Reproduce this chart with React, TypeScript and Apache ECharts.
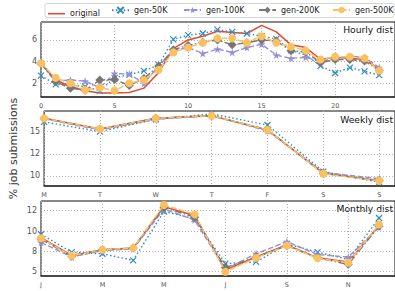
import React, { useEffect, useRef } from 'react';
import * as echarts from 'echarts';

const FONT = 'DejaVu Sans';

const seriesNames = ['original', 'gen-50K', 'gen-100K', 'gen-200K', 'gen-500K'];

const hours = [0, 1, 2, 3, 4, 5, 6, 7, 8, 9, 10, 11, 12, 13, 14, 15, 16, 17, 18, 19, 20, 21, 22, 23];
const hourlyOriginal = [3.8, 2.3, 1.7, 1.3, 1.1, 1.1, 1.15, 1.55, 3.0, 5.2, 6.0, 6.35, 6.8, 6.7, 6.6, 7.35, 6.75, 5.55, 5.3, 4.2, 4.4, 4.3, 4.2, 3.3];
const hourlyGen50K = [2.7, 1.9, 1.8, 1.7, 1.3, 2.5, 2.8, 3.15, 3.7, 6.05, 6.45, 6.6, 6.95, 6.75, 6.6, 6.35, 6.1, 5.05, 4.6, 3.6, 2.95, 3.45, 3.1, 2.75];
const hourlyGen100K = [4.0, 2.2, 2.3, 2.2, 1.6, 2.9, 2.85, 2.0, 3.6, 5.0, 5.3, 4.75, 5.15, 4.85, 5.3, 5.6, 4.6, 4.3, 4.4, 4.0, 4.3, 4.5, 4.4, 3.45];
const hourlyGen200K = [3.8, 2.15, 1.55, 1.35, 2.3, 2.35, 1.8, 2.45, 3.6, 5.1, 5.5, 5.8, 6.0, 5.55, 5.75, 6.0, 5.9, 5.0, 4.9, 3.9, 4.2, 4.2, 4.05, 3.2];
const hourlyGen500K = [3.85, 2.5, 2.0, 1.38, 1.6, 1.32, 2.0, 2.3, 3.25, 4.85, 5.3, 5.75, 6.15, 6.15, 5.75, 6.35, 5.75, 5.38, 5.0, 4.2, 4.45, 4.45, 4.3, 3.17];

const weekdays = [0, 1, 2, 3, 4, 5, 6];
const weekdayLabels = ['M', 'T', 'W', 'T', 'F', 'S', 'S'];
const weeklyOriginal = [16.5, 15.3, 16.5, 16.8, 15.2, 10.3, 9.45];
const weeklyGen50K = [16.1, 15.0, 16.4, 17.0, 15.75, 10.5, 9.3];
const weeklyGen100K = [16.45, 15.2, 16.4, 16.8, 15.1, 10.4, 9.7];
const weeklyGen200K = [16.5, 15.3, 16.5, 16.8, 15.2, 10.3, 9.5];
const weeklyGen500K = [16.5, 15.3, 16.5, 16.8, 15.2, 10.25, 9.45];

const months = [0, 1, 2, 3, 4, 5, 6, 7, 8, 9, 10, 11];
const monthTicks = [0, 2, 4, 6, 8, 10];
const monthTickLabels = ['J', 'M', 'M', 'J', 'S', 'N'];
const monthlyOriginal = [9.2, 7.0, 7.7, 7.9, 13.0, 11.9, 5.2, 6.8, 8.3, 6.7, 6.2, 10.7];
const monthlyGen50K = [9.6, 7.4, 7.2, 6.4, 12.4, 11.5, 6.0, 6.2, 8.4, 7.4, 6.5, 11.6];
const monthlyGen100K = [8.6, 6.8, 7.6, 7.8, 12.7, 11.35, 5.3, 7.2, 8.7, 7.1, 6.8, 10.5];
const monthlyGen200K = [9.0, 6.9, 7.7, 7.9, 12.9, 11.7, 5.5, 6.8, 8.2, 6.7, 5.9, 10.6];
const monthlyGen500K = [9.1, 6.95, 7.7, 7.9, 13.2, 12.05, 5.0, 6.7, 8.2, 6.65, 6.1, 10.8];

const hourTicks = [0, 5, 10, 15, 20];
const hourlyYTicks = [2, 4, 6];
const hourlyYTickLabels = ['2', '4', '6'];
const weeklyYTicks = [10, 12.5, 15];
const weeklyYTickLabels = ['10', '12', '15'];
const monthlyYTicks = [5, 7.5, 10, 12.5];
const monthlyYTickLabels = ['5', '8', '10', '12'];

const panelTitles = ['Hourly dist', 'Weekly dist', 'Monthly dist'];

const STAR = 'path://M50,0 L61,35 L98,35 L68,57 L79,91 L50,70 L21,91 L32,57 L2,35 L39,35 Z';
const XMARK = 'path://M0,0 L10,10 M10,0 L0,10';

const styles = [
  { color: '#E24A33', symbol: 'none', size: 0, type: 'solid' as any, width: 1.5 },
  { color: '#348ABD', symbol: XMARK, size: 6, type: [1.5, 2.4], width: 1.4 },
  { color: '#988ED5', symbol: STAR, size: 8, type: [5.5, 2.4], width: 1.4 },
  { color: '#777777', symbol: 'diamond', size: 9, type: [7, 2.4, 1.5, 2.4], width: 1.4 },
  { color: '#FBC15E', symbol: 'circle', size: 8, type: [5.5, 2.4], width: 1.5 },
];

function buildSeries(xs: number[], ys: number[][], idx: number) {
  return ys.map((arr, s) => {
    const st = styles[s];
    return {
      type: 'line',
      name: seriesNames[s],
      xAxisIndex: idx,
      yAxisIndex: idx,
      data: xs.map((x, i) => [x, arr[i]]),
      symbol: st.symbol,
      symbolSize: st.size,
      showSymbol: st.symbol !== 'none',
      z: 2 + s,
      lineStyle: { color: st.color, width: st.width, type: st.type },
      itemStyle: {
        color: st.color,
        borderColor: st.color,
        borderWidth: s === 1 ? 1.2 : 0,
        opacity: 1,
      },
      silent: true,
    };
  });
}

const gridTops = [22, 111, 201];
const GRID_H = 75;

function xAxisCommon(gridIndex: number, max: number, ticks: number[], fmt: (v: number) => string) {
  return {
    gridIndex,
    type: 'value',
    min: 0,
    max,
    axisLine: { show: true, onZero: false, lineStyle: { color: '#333', width: 1.5 } },
    axisTick: { show: false, customValues: ticks },
    axisLabel: {
      customValues: ticks,
      formatter: fmt,
      fontSize: 6.5,
      color: '#555',
      margin: 5,
      fontFamily: FONT,
    },
    splitLine: { show: true, lineStyle: { color: '#b0b0b0', type: [1, 2], width: 1 } },
  };
}

function yAxisCommon(gridIndex: number, min: number, max: number, ticks: number[], labels: string[]) {
  return {
    gridIndex,
    type: 'value',
    min,
    max,
    axisLine: { show: false },
    axisTick: { show: false, customValues: ticks },
    axisLabel: {
      customValues: ticks,
      formatter: (v: number) => labels[ticks.indexOf(v)] ?? '',
      fontSize: 8,
      color: '#555',
      margin: 4,
      fontFamily: FONT,
    },
    splitLine: { show: true, lineStyle: { color: '#b0b0b0', type: [1, 2], width: 1 } },
  };
}

export default function App() {
  const ref = useRef<HTMLDivElement>(null);
  useEffect(() => {
    document.body.style.margin = '0';
    const chart = echarts.init(ref.current!, null, { renderer: 'svg' });
    const legendLefts = [48, 111, 183, 258, 332];
    const option: any = {
      animation: false,
      textStyle: { fontFamily: FONT },
      grid: gridTops.map((t) => ({
        left: 41,
        top: t,
        width: 355,
        height: GRID_H,
        show: true,
        borderColor: '#111',
        borderWidth: 1,
        backgroundColor: 'transparent',
      })),
      xAxis: [
        xAxisCommon(0, 24.07, hourTicks, (v) => String(v)),
        xAxisCommon(1, 6.283, weekdays, (v) => weekdayLabels[Math.round(v)] ?? ''),
        xAxisCommon(2, 11.52, monthTicks, (v) => monthTickLabels[monthTicks.indexOf(v)] ?? ''),
      ],
      yAxis: [
        yAxisCommon(0, 0.73, 7.66, hourlyYTicks, hourlyYTickLabels),
        {
          ...yAxisCommon(1, 8.87, 17.33, weeklyYTicks, weeklyYTickLabels),
          name: '% job submissions',
          nameLocation: 'middle',
          nameRotate: 90,
          nameGap: 23,
          nameTextStyle: { fontSize: 11, color: '#333', fontFamily: FONT },
        },
        yAxisCommon(2, 4.47, 13.69, monthlyYTicks, monthlyYTickLabels),
      ],
      legend: seriesNames.map((n, i) => ({
        data: i === 0 ? [{ name: n, icon: 'rect' }] : [n],
        left: legendLefts[i],
        top: i === 0 ? 9.7 : 6,
        padding: 0,
        itemWidth: 17,
        itemHeight: i === 0 ? 1.6 : 8,
        textStyle: { fontSize: 8, color: '#222', fontFamily: FONT },
        selectedMode: false,
      })),
      graphic: [
        {
          type: 'rect',
          z: -10,
          shape: { x: 45, y: 3.5, width: 349, height: 14, r: 2 },
          style: { fill: '#fff', stroke: '#cccccc', lineWidth: 0.8 },
          silent: true,
        },
        ...panelTitles.map((t, i) => ({
          type: 'text',
          right: 2,
          top: [25, 115, 204][i],
          style: { text: t, fontSize: 9.2, fill: '#111', fontFamily: FONT },
          silent: true,
        })),
      ],
      series: [
        ...buildSeries(hours, [hourlyOriginal, hourlyGen50K, hourlyGen100K, hourlyGen200K, hourlyGen500K], 0),
        ...buildSeries(weekdays, [weeklyOriginal, weeklyGen50K, weeklyGen100K, weeklyGen200K, weeklyGen500K], 1),
        ...buildSeries(months, [monthlyOriginal, monthlyGen50K, monthlyGen100K, monthlyGen200K, monthlyGen500K], 2),
      ],
    };
    chart.setOption(option);
    return () => chart.dispose();
  }, []);
  return <div ref={ref} style={{ width: 395, height: 291 }} />;
}
